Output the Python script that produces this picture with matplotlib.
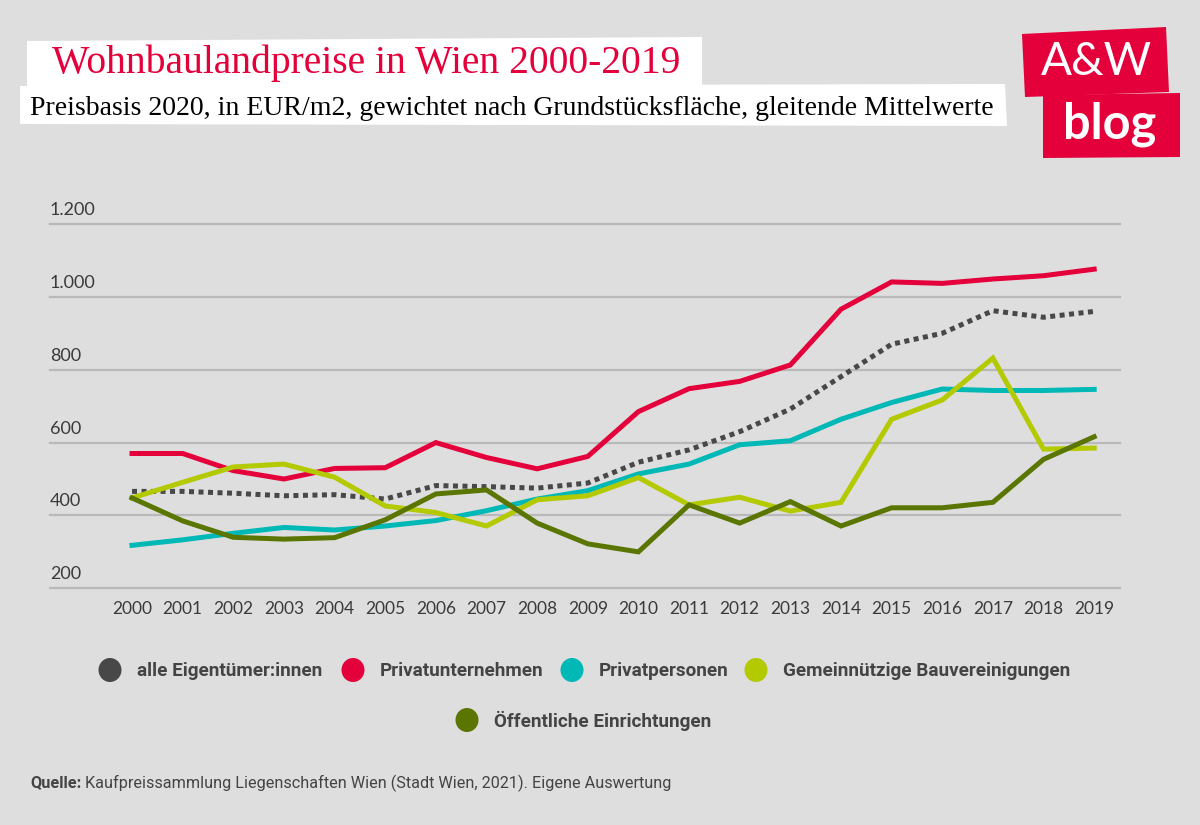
# Wohnbaulandpreise in Wien 2000-2019 (A&W blog chart)
import matplotlib
matplotlib.use('Agg')
import matplotlib.pyplot as plt
from matplotlib.patches import Polygon, Ellipse

# data, EUR/m2
years = list(range(2000, 2020))
alle = [466, 466, 461, 454, 457, 445, 482, 479, 475, 489,
        546, 580, 630, 692, 781, 870, 900, 962, 944, 960]
privatunternehmen = [570, 570, 523, 500, 529, 531, 600, 559, 528, 562,
                     685, 748, 768, 813, 966, 1041, 1037, 1049, 1058, 1076]
privatpersonen = [318, 333, 351, 367, 360, 371, 386, 413, 445, 468,
                  514, 541, 594, 605, 664, 710, 747, 743, 743, 746]
gemeinnuetzige = [448, 491, 533, 541, 505, 426, 408, 371, 443, 454,
                  504, 429, 450, 412, 436, 664, 717, 832, 582, 585]
oeffentliche = [448, 385, 340, 335, 339, 388, 459, 470, 379, 322,
                300, 429, 379, 438, 371, 421, 421, 436, 554, 616]

labels = ['alle Eigentümer:innen', 'Privatunternehmen', 'Privatpersonen',
          'Gemeinnützige Bauvereinigungen', 'Öffentliche Einrichtungen']
colors = ['#484848', '#e4003b', '#00b8b6', '#b3c900', '#5b7600']
yticks = [200, 400, 600, 800, 1000, 1200]

BG = '#dedede'
TXT = '#3a3a3a'
W, H = 1200, 825

fig = plt.figure(figsize=(12, 8.25), dpi=100, facecolor=BG)

# overlay in pixel coordinates for title boxes, logo, legend, source
ov = fig.add_axes([0, 0, 1, 1])
ov.set_xlim(0, W)
ov.set_ylim(H, 0)
ov.axis('off')

# title boxes
ov.add_patch(Polygon([(27, 41), (702, 37), (702, 88), (27, 88)], closed=True,
                     facecolor='white', edgecolor='none'))
ov.add_patch(Polygon([(20, 86), (1005, 84), (1007, 126), (20, 124)], closed=True,
                     facecolor='white', edgecolor='none'))
ov.text(52, 73, 'Wohnbaulandpreise in Wien 2000-2019', color='#e4003b',
        fontsize=28.5, family='Liberation Serif', va='baseline')
ov.text(30, 115, 'Preisbasis 2020, in EUR/m2, gewichtet nach Grundstücksfläche, gleitende Mittelwerte',
        color='black', fontsize=20, family='Liberation Serif', va='baseline')

# logo
ov.add_patch(Polygon([(1022, 34), (1166, 27), (1169, 92), (1025, 97)], closed=True,
                     facecolor='#e4003b', edgecolor='none'))
ov.add_patch(Polygon([(1043, 95), (1180, 93), (1180, 157), (1043, 158)], closed=True,
                     facecolor='#e4003b', edgecolor='none'))
ov.text(1096, 62, 'A&W', color='white', fontsize=33, family='Lato',
        ha='center', va='center')
ov.text(1110, 124, 'blog', color='white', fontsize=35, family='Lato', fontweight='bold',
        ha='center', va='center')

# chart axes
ax = fig.add_axes([50 / W, (H - 588.3) / H, 1070 / W, (588.3 - 224) / H])
ax.set_facecolor('none')
ax.set_xlim(1998.38, 2019.51)
ax.set_ylim(200, 1200)
for s in ax.spines.values():
    s.set_visible(False)
for v in yticks:
    ax.axhline(v, color='#b9b9b9', lw=1.6, clip_on=False, zorder=1)
    ax.annotate(f'{v:,}'.replace(',', '.'), xy=(0, v), xycoords=('axes fraction', 'data'),
                xytext=(0, 6), textcoords='offset pixels', ha='left', va='bottom',
                fontsize=13, color=TXT, family='Lato')
ax.set_yticks([])
ax.set_xticks(years)
ax.set_xticklabels([str(y) for y in years], fontsize=12.5, color=TXT, family='Lato')
ax.tick_params(axis='x', length=0, pad=9)

series = [alle, privatunternehmen, privatpersonen, gemeinnuetzige, oeffentliche]
for i, (vals, lab, col) in enumerate(zip(series, labels, colors)):
    if i == 0:
        ax.plot(years, vals, color=col, lw=3.6, ls=(0, (1, 0.9)), label=lab,
                clip_on=False, zorder=3)
    else:
        ax.plot(years, vals, color=col, lw=3.6, label=lab, clip_on=False,
                solid_joinstyle='miter', zorder=3 + i)

# legend (manual, two centred rows)
leg_pos = [(110, 670), (353, 670), (572, 670), (756, 670), (467, 720)]
for (lx, ly), lab, col in zip(leg_pos, labels, colors):
    ov.add_patch(Ellipse((lx, ly), 23, 24, facecolor=col, edgecolor='none'))
    ov.text(lx + 27, ly + 1, lab, color='#444444', fontsize=13.6, fontweight='bold',
            family='Roboto', va='center', ha='left')

# source
src = ov.text(30, 783, 'Quelle:', color='#444444', fontsize=11.7, fontweight='bold',
              family='Roboto', va='center')
ov.annotate(' Kaufpreissammlung Liegenschaften Wien (Stadt Wien, 2021). Eigene Auswertung',
            xycoords=src, xy=(1, 0.5), va='center', color='#444444', fontsize=11.7,
            family='Roboto')

plt.savefig('out.png', dpi=100, facecolor=BG)
